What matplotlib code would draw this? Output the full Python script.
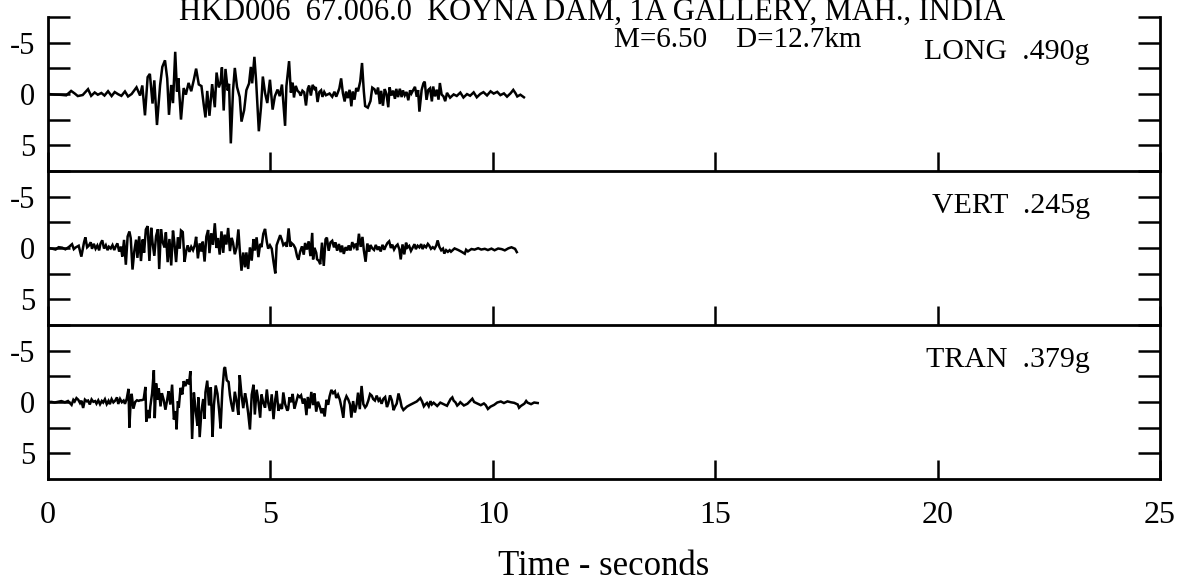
import matplotlib
matplotlib.use("Agg")
import matplotlib.pyplot as plt

plt.rcParams['font.family'] = ['Liberation Serif', 'DejaVu Serif']
plt.rcParams['axes.unicode_minus'] = False

# ---------------- data (time s, acceleration units) ----------------
title_line1 = "HKD006  67.006.0  KOYNA DAM, 1A GALLERY, MAH., INDIA"
title_line2 = "M=6.50    D=12.7km"
components = ["LONG", "VERT", "TRAN"]
peaks = [".490g", ".245g", ".379g"]
x_ticks = [0, 5, 10, 15, 20, 25]
y_ticks = [-5, 0, 5]
y_minor = [-7.5, -2.5, 2.5]

long_pts = [
    (0.00, 0.00), (0.14, 0.05), (0.29, 0.08), (0.41, 0.13), (0.52, -0.30), (0.60, -0.05), (0.67, 0.20),
    (0.78, 0.10), (0.90, -0.47), (0.97, 0.18), (1.05, -0.15), (1.12, 0.07), (1.20, -0.10), (1.27, 0.15),
    (1.35, -0.27), (1.43, 0.20), (1.50, -0.19), (1.58, 0.03), (1.65, 0.18), (1.73, -0.25), (1.80, 0.24),
    (1.88, 0.00), (1.99, -0.65), (2.07, 0.15), (2.12, -0.83), (2.18, 2.08), (2.24, -1.64), (2.29, -1.96),
    (2.35, 0.93), (2.39, -1.33), (2.45, 3.02), (2.52, -0.86), (2.57, -2.64), (2.63, -3.28), (2.68, -1.52),
    (2.72, 2.03), (2.77, -0.88), (2.81, 0.89), (2.86, -4.11), (2.90, -0.24), (2.93, -1.54), (2.99, 2.49),
    (3.05, -0.58), (3.10, 0.06), (3.16, -1.08), (3.22, -0.27), (3.28, -1.41), (3.33, -2.47), (3.39, -0.93),
    (3.45, -0.77), (3.50, 1.00), (3.54, 2.28), (3.58, -0.30), (3.63, 2.12), (3.69, -0.96), (3.75, 1.29),
    (3.79, -2.09), (3.84, -0.64), (3.88, -1.14), (3.91, -2.59), (3.95, 1.61), (3.99, -2.44), (4.04, -0.34),
    (4.07, -0.99), (4.11, 4.81), (4.16, -0.35), (4.20, -2.54), (4.25, -0.68), (4.31, 0.29), (4.35, 2.69),
    (4.41, 1.57), (4.46, -0.37), (4.52, -1.03), (4.56, -2.64), (4.59, -1.04), (4.64, -3.62), (4.68, -1.20),
    (4.74, 3.63), (4.79, 1.21), (4.83, -1.70), (4.88, -0.09), (4.93, 0.88), (4.99, -1.39), (5.05, 1.52),
    (5.10, 0.22), (5.16, -0.43), (5.21, 0.21), (5.26, -0.92), (5.33, 3.10), (5.36, -0.77), (5.42, -3.20),
    (5.46, -0.14), (5.50, -1.11), (5.53, 0.34), (5.57, -0.79), (5.61, -0.31), (5.65, -0.15), (5.68, 0.16),
    (5.72, -0.32), (5.76, -0.16), (5.80, 1.12), (5.84, -0.49), (5.87, -0.82), (5.91, 0.15), (5.95, -0.89),
    (5.99, -0.51), (6.02, -0.67), (6.06, 0.78), (6.10, -0.19), (6.14, -0.36), (6.17, 0.28), (6.21, -0.20),
    (6.25, 0.12), (6.33, -0.05), (6.39, 0.27), (6.44, -0.22), (6.48, 0.26), (6.51, -0.07), (6.55, -0.55),
    (6.59, -1.52), (6.63, -0.07), (6.67, 0.73), (6.70, -0.24), (6.74, 0.40), (6.78, -0.41), (6.82, 1.20),
    (6.85, -0.25), (6.89, 0.55), (6.93, -0.58), (6.97, -0.26), (7.02, -1.24), (7.06, -3.02), (7.10, -0.28),
    (7.13, 1.17), (7.19, 1.33), (7.25, 0.68), (7.29, -0.62), (7.34, -0.46), (7.38, 0.02), (7.42, -0.63),
    (7.46, 0.98), (7.49, -0.31), (7.53, 1.14), (7.57, -0.48), (7.61, 0.00), (7.65, 1.29), (7.68, -0.65),
    (7.72, 0.15), (7.76, -0.33), (7.80, 0.47), (7.83, -0.50), (7.87, 0.30), (7.91, -0.51), (7.95, 0.30),
    (7.98, -0.35), (8.02, 0.13), (8.06, -0.20), (8.10, 0.61), (8.14, -0.36), (8.17, -0.05), (8.21, -0.37),
    (8.25, -0.70), (8.29, 0.27), (8.32, -0.38), (8.35, 1.72), (8.40, -0.39), (8.44, -1.04), (8.47, -1.20),
    (8.51, 0.57), (8.55, -0.40), (8.59, -0.56), (8.63, 0.72), (8.66, -0.73), (8.70, 0.23), (8.74, -0.42),
    (8.78, 0.55), (8.81, -1.07), (8.85, 0.06), (8.89, 0.22), (8.93, 0.70), (8.97, -0.11), (9.04, 0.36),
    (9.12, 0.04), (9.19, 0.19), (9.27, -0.14), (9.34, 0.34), (9.42, 0.01), (9.49, 0.17), (9.57, -0.16),
    (9.64, 0.32), (9.72, -0.01), (9.79, -0.18), (9.87, 0.14), (9.95, -0.26), (10.02, -0.04), (10.10, -0.21),
    (10.17, 0.11), (10.25, -0.06), (10.32, 0.26), (10.40, -0.07), (10.46, -0.40), (10.51, -0.08),
    (10.55, 0.24), (10.62, 0.07), (10.70, 0.32),
]

vert_pts = [
    (0.02, 0.00), (0.09, 0.06), (0.17, 0.15), (0.24, -0.08), (0.32, -0.03), (0.39, 0.13), (0.47, -0.10),
    (0.54, -0.37), (0.58, 0.11), (0.62, -0.05), (0.69, -0.22), (0.75, 0.84), (0.81, -0.55), (0.84, -1.04),
    (0.88, -0.07), (0.92, -0.24), (0.96, -0.56), (0.99, 0.08), (1.03, -0.41), (1.07, 0.07), (1.11, -0.25),
    (1.15, 0.23), (1.18, -0.42), (1.22, -0.75), (1.26, 0.05), (1.30, -0.27), (1.34, 0.21), (1.37, -0.12),
    (1.41, 0.04), (1.45, -0.28), (1.49, 0.20), (1.52, -0.13), (1.56, -0.45), (1.60, 0.35), (1.64, -0.14),
    (1.67, 0.83), (1.71, -0.79), (1.75, 1.63), (1.79, -1.12), (1.83, -1.61), (1.86, -0.96), (1.90, 2.10),
    (1.94, 0.32), (1.98, -0.81), (2.01, 0.96), (2.05, -1.14), (2.09, 1.27), (2.13, -0.83), (2.16, 0.46),
    (2.20, -1.80), (2.24, -2.13), (2.28, 1.26), (2.32, -1.97), (2.35, -0.52), (2.39, 0.76), (2.43, -1.17),
    (2.47, -1.82), (2.50, 2.05), (2.54, -1.83), (2.58, -0.54), (2.62, -0.06), (2.65, -1.52), (2.69, 1.38),
    (2.73, -0.88), (2.77, 1.70), (2.81, -1.69), (2.84, -0.56), (2.88, 1.37), (2.92, -1.05), (2.96, 0.07),
    (2.99, -1.70), (3.03, -1.55), (3.07, 1.35), (3.11, 0.22), (3.14, -0.26), (3.18, 0.38), (3.22, -0.11),
    (3.26, 0.21), (3.30, -0.28), (3.33, -1.09), (3.37, 1.01), (3.41, -0.45), (3.45, 0.35), (3.48, -0.62),
    (3.52, 1.32), (3.56, -1.11), (3.60, -1.75), (3.63, 0.50), (3.67, -1.44), (3.71, -0.31), (3.75, -2.41),
    (3.79, 0.00), (3.82, -0.97), (3.86, 0.64), (3.90, -1.62), (3.94, 0.47), (3.97, -1.30), (4.01, -0.34),
    (4.05, -1.95), (4.09, 0.30), (4.13, -0.99), (4.16, -0.51), (4.20, 0.61), (4.24, -0.04), (4.28, -1.81),
    (4.31, 0.12), (4.35, 2.21), (4.39, 0.44), (4.43, 1.88), (4.46, 0.43), (4.50, 2.04), (4.54, -0.06),
    (4.58, 1.23), (4.62, -0.87), (4.65, 0.25), (4.69, -1.04), (4.73, 0.89), (4.77, -0.40), (4.80, -0.08),
    (4.84, -1.38), (4.88, -1.86), (4.92, -0.58), (4.95, 0.06), (4.99, -0.26), (5.03, 0.06), (5.07, 1.35),
    (5.11, 2.47), (5.14, -0.27), (5.18, -0.76), (5.22, -1.25), (5.26, -0.76), (5.29, -0.28), (5.33, -0.45),
    (5.37, -0.13), (5.41, -1.91), (5.45, -0.14), (5.48, -0.46), (5.52, -0.30), (5.56, 0.02), (5.60, 0.82),
    (5.63, 1.14), (5.67, 0.33), (5.71, -0.16), (5.75, 0.65), (5.78, -0.49), (5.82, 0.15), (5.86, -0.65),
    (5.90, 0.79), (5.94, -1.47), (5.96, 1.11), (5.99, -0.02), (6.03, 0.46), (6.05, 1.10), (6.09, 1.26),
    (6.12, 1.58), (6.16, -0.52), (6.20, 1.74), (6.24, -0.85), (6.27, -1.01), (6.31, 0.27), (6.35, -0.54),
    (6.39, -0.70), (6.43, -0.06), (6.46, -0.55), (6.50, 0.26), (6.54, -0.39), (6.58, 0.41), (6.61, -0.24),
    (6.65, 0.57), (6.69, -0.08), (6.73, 0.24), (6.76, -0.25), (6.80, 0.24), (6.84, -0.57), (6.88, -0.09),
    (6.92, -0.42), (6.95, 0.22), (6.99, -1.39), (7.03, -0.11), (7.07, -1.08), (7.10, 0.21), (7.14, 1.34),
    (7.18, -0.44), (7.22, 0.36), (7.25, -0.29), (7.29, 0.03), (7.33, 0.19), (7.37, -0.30), (7.41, 0.18),
    (7.44, -0.14), (7.48, 0.34), (7.52, -0.31), (7.56, 0.17), (7.59, -0.15), (7.63, -0.48), (7.67, -0.65),
    (7.71, 0.00), (7.74, -0.33), (7.78, 0.15), (7.82, -0.17), (7.86, -0.34), (7.90, 0.14), (7.93, 1.11),
    (7.97, -0.35), (8.01, 0.62), (8.05, -0.52), (8.08, -0.04), (8.12, -0.20), (8.16, 0.28), (8.20, -0.05),
    (8.24, -0.37), (8.27, 0.11), (8.31, -0.22), (8.35, -0.06), (8.39, -0.38), (8.42, 0.10), (8.46, -0.23),
    (8.50, -0.07), (8.54, -0.40), (8.57, -0.24), (8.61, 0.08), (8.65, -0.08), (8.69, 0.07), (8.73, -0.25),
    (8.76, -0.74), (8.80, -0.10), (8.84, 0.22), (8.88, 0.06), (8.91, 0.54), (8.95, 0.21), (8.99, 0.37),
    (9.03, 0.21), (9.06, 0.36), (9.14, 0.04), (9.22, 0.19), (9.29, 0.35), (9.37, 0.56), (9.40, 0.17),
    (9.44, 0.33), (9.52, 0.10), (9.59, 0.16), (9.67, 0.02), (9.74, 0.15), (9.82, 0.08), (9.89, 0.20),
    (9.97, 0.06), (10.04, 0.22), (10.12, 0.05), (10.20, 0.11), (10.27, 0.23), (10.35, 0.03), (10.42, -0.07),
    (10.50, 0.08), (10.54, 0.40),
]

tran_pts = [
    (0.00, 0.00), (0.08, -0.01), (0.15, 0.05), (0.23, -0.02), (0.30, -0.09), (0.38, 0.03), (0.45, -0.10),
    (0.53, 0.28), (0.57, -0.21), (0.60, -0.05), (0.64, -0.38), (0.68, -0.22), (0.72, 0.10), (0.75, -0.13),
    (0.79, 0.58), (0.83, -0.23), (0.87, -0.07), (0.90, -0.14), (0.94, 0.24), (0.98, -0.25), (1.02, -0.02),
    (1.06, -0.09), (1.09, 0.16), (1.13, -0.16), (1.17, 0.22), (1.21, -0.10), (1.24, 0.05), (1.28, -0.27),
    (1.32, 0.21), (1.36, -0.11), (1.39, 0.21), (1.43, -0.28), (1.47, 0.04), (1.51, -0.13), (1.55, -0.45),
    (1.58, 0.19), (1.62, -0.30), (1.66, 0.02), (1.70, -0.14), (1.73, 0.18), (1.77, -0.31), (1.81, -1.28),
    (1.83, 2.49), (1.86, -0.16), (1.88, -0.80), (1.92, 0.65), (1.96, 0.00), (2.00, -0.17), (2.04, -0.11),
    (2.07, -0.17), (2.11, -0.18), (2.15, -0.25), (2.19, -1.47), (2.21, 1.91), (2.25, 0.78), (2.28, 1.58),
    (2.30, 0.45), (2.34, -0.84), (2.38, -3.10), (2.40, 1.57), (2.43, -1.82), (2.47, -0.21), (2.49, -1.34),
    (2.53, 0.43), (2.56, -0.86), (2.60, -0.22), (2.64, 0.75), (2.68, -0.23), (2.71, -1.04), (2.75, 0.25),
    (2.79, -1.69), (2.83, 1.70), (2.87, 0.89), (2.89, 2.66), (2.92, -0.08), (2.94, 0.56), (2.98, -1.38),
    (3.02, -0.74), (3.05, -2.03), (3.09, -1.55), (3.13, -2.20), (3.17, -1.72), (3.20, -3.01), (3.24, 3.60),
    (3.28, -0.92), (3.32, 0.85), (3.36, 2.30), (3.38, -0.45), (3.41, 3.42), (3.45, 0.84), (3.49, -0.29),
    (3.52, 1.64), (3.54, -0.95), (3.58, -2.08), (3.62, 0.34), (3.66, -1.44), (3.70, 3.40), (3.73, 0.33),
    (3.77, -1.61), (3.81, -0.81), (3.85, 0.96), (3.88, 2.57), (3.92, -1.14), (3.96, -3.24), (3.98, -3.40),
    (4.02, -2.11), (4.06, -1.95), (4.09, -0.67), (4.12, 0.14), (4.16, 0.94), (4.20, -1.00), (4.24, -0.04),
    (4.28, 1.25), (4.31, -2.62), (4.35, -0.69), (4.39, 0.60), (4.43, -0.85), (4.46, -0.22), (4.50, 1.07),
    (4.54, 2.68), (4.58, -0.71), (4.62, -1.68), (4.65, 1.22), (4.69, -1.20), (4.73, -0.08), (4.77, 1.53),
    (4.80, -0.73), (4.84, 0.07), (4.88, 0.55), (4.92, -1.22), (4.95, 0.06), (4.99, 0.87), (5.03, -0.75),
    (5.07, 1.67), (5.11, -0.27), (5.14, -1.08), (5.18, 0.85), (5.22, 0.36), (5.26, 0.68), (5.29, -0.93),
    (5.33, 0.19), (5.38, 0.84), (5.40, 0.67), (5.43, -0.46), (5.47, 0.02), (5.50, -0.79), (5.54, 0.66),
    (5.58, 0.01), (5.62, -0.64), (5.66, -0.48), (5.69, -0.64), (5.73, 0.16), (5.77, -0.33), (5.81, 1.28),
    (5.84, -0.49), (5.88, 0.63), (5.92, -0.98), (5.96, 0.30), (5.99, -0.83), (6.03, 0.94), (6.07, -0.03),
    (6.11, 0.45), (6.15, 1.09), (6.18, 0.61), (6.22, 1.41), (6.26, -0.21), (6.30, 0.27), (6.33, -0.54),
    (6.37, -1.18), (6.41, -0.86), (6.45, -1.03), (6.48, -0.39), (6.52, -0.71), (6.56, -0.23), (6.60, 0.57),
    (6.64, 1.54), (6.67, -0.08), (6.71, -0.56), (6.75, -0.25), (6.79, 0.24), (6.82, 1.52), (6.86, -0.09),
    (6.90, 1.03), (6.94, 0.22), (6.97, -0.91), (7.01, 0.70), (7.05, -1.56), (7.09, 0.21), (7.13, 0.53),
    (7.16, 0.36), (7.20, -0.12), (7.24, -0.77), (7.28, -0.61), (7.31, -0.29), (7.35, -0.14), (7.39, -0.62),
    (7.43, -0.14), (7.46, -0.31), (7.50, 0.17), (7.54, -0.31), (7.58, -0.48), (7.62, 0.49), (7.65, 0.16),
    (7.69, -0.65), (7.73, -0.17), (7.77, 0.80), (7.80, 0.47), (7.84, 0.15), (7.88, -0.83), (7.92, -0.18),
    (7.95, 0.46), (7.99, 0.78), (8.03, 0.61), (8.07, 0.45), (8.14, 0.28), (8.22, 0.11), (8.29, -0.05),
    (8.33, -0.22), (8.37, -0.38), (8.41, -0.06), (8.45, 0.42), (8.48, 0.25), (8.52, 0.09), (8.56, 0.41),
    (8.60, -0.08), (8.63, 0.24), (8.67, 0.07), (8.75, 0.39), (8.82, 0.06), (8.90, 0.22), (8.97, 0.37),
    (9.05, -0.28), (9.09, -0.45), (9.12, -0.13), (9.16, 0.03), (9.20, 0.35), (9.24, 0.19), (9.27, 0.02),
    (9.35, 0.34), (9.43, 0.17), (9.50, -0.15), (9.54, -0.32), (9.58, 0.00), (9.65, 0.15), (9.73, 0.31),
    (9.80, 0.14), (9.84, 0.30), (9.89, 0.68), (9.95, 0.45), (10.03, 0.28), (10.10, 0.05), (10.18, -0.05),
    (10.25, 0.10), (10.33, -0.06), (10.41, 0.03), (10.48, 0.08), (10.56, 0.24), (10.59, 0.56), (10.63, 0.39),
    (10.71, 0.16), (10.75, -0.10), (10.78, 0.06), (10.86, 0.21), (10.93, 0.05), (11.01, 0.10),
]

traces = [long_pts, vert_pts, tran_pts]

# ---------------- figure ----------------
W, H = 1182, 586
fig = plt.figure(figsize=(W / 100, H / 100), dpi=100)

ax_left = 48 / W
ax_width = 1112 / W
panel_px = 154
panel_tops = [17, 171, 325]

axes = []
for i, (pts, comp, pk) in enumerate(zip(traces, components, peaks)):
    top = panel_tops[i]
    ax = fig.add_axes([ax_left, 1 - (top + panel_px) / H, ax_width, panel_px / H])
    t = [p[0] for p in pts]
    a = [p[1] for p in pts]
    ax.plot(t, a, color='black', lw=1.8, solid_joinstyle='miter')
    ax.set_xlim(0, 25)
    ax.set_ylim(7.5, -7.5)
    ax.spines['top'].set_visible(False)
    for s in ('left', 'right', 'bottom'):
        ax.spines[s].set_linewidth(2.0)
    ax.set_yticks(y_ticks, labels=[str(v) for v in y_ticks])
    ax.set_yticks(y_minor, minor=True)
    ax.tick_params(axis='y', which='both', direction='in', length=16, width=1.8,
                   left=True, right=True, labelleft=True, labelright=False,
                   labelsize=22, pad=9)
    ax.set_xticks(x_ticks, labels=[str(v) for v in x_ticks])
    ax.tick_params(axis='x', which='both', direction='in', length=14, width=1.8,
                   bottom=True, top=False, labelbottom=(i == 2), labelsize=23, pad=16)
    ax.text(0.937, 0.77, f"{comp}  {pk}", transform=ax.transAxes,
            ha='right', va='center', fontsize=21.5)
    ax.set_facecolor('none')
    axes.append(ax)

axes[-1].set_xlabel("Time - seconds", fontsize=25, labelpad=14)

fig.text(592 / W, 1 - 20 / H, title_line1, ha='center', va='baseline', fontsize=22)
fig.text(738 / W, 1 - 47 / H, title_line2, ha='center', va='baseline', fontsize=21)

fig.savefig("out.png", dpi=100)
